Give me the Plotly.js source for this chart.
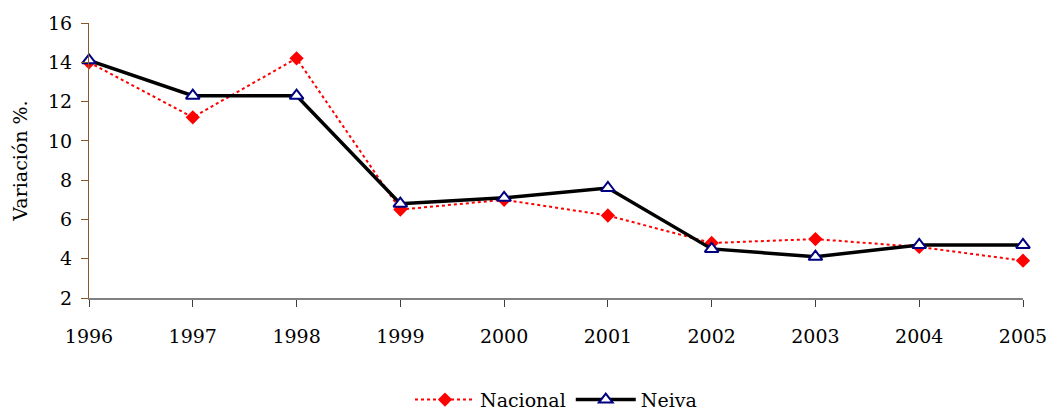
<!DOCTYPE html>
<html>
<head>
<meta charset="utf-8">
<script src="https://cdn.plot.ly/plotly-3.0.1.min.js"></script>
<style>html,body{margin:0;padding:0;background:#fff;}#chart{width:1050px;height:410px;}</style>
</head>
<body>
<div id="chart"></div>
<script>
const years = [1996, 1997, 1998, 1999, 2000, 2001, 2002, 2003, 2004, 2005];
const nacional = [14.0, 11.2, 14.2, 6.5, 7.0, 6.2, 4.8, 5.0, 4.6, 3.9];
const neiva = [14.1, 12.3, 12.3, 6.8, 7.1, 7.6, 4.5, 4.1, 4.7, 4.7];
const yTicks = [2, 4, 6, 8, 10, 12, 14, 16];

const font = 'DejaVu Serif, Liberation Serif, serif';

const traces = [
  {
    x: years, y: nacional, name: 'Nacional', type: 'scatter', mode: 'lines+markers',
    line: {color: '#ff0000', width: 2, dash: 'dot'},
    marker: {symbol: 'diamond', size: 11, color: '#ff0000'},
    cliponaxis: false
  },
  {
    x: years, y: neiva, name: 'Neiva', type: 'scatter', mode: 'lines+markers',
    line: {color: '#000000', width: 3.5},
    marker: {symbol: 'triangle-up', size: 12, color: '#ffffff', line: {color: '#000080', width: 2}},
    cliponaxis: false
  }
];

const layout = {
  width: 1050, height: 410,
  margin: {l: 89, r: 27, t: 23, b: 112, autoexpand: false},
  paper_bgcolor: '#ffffff', plot_bgcolor: '#ffffff',
  font: {family: font, size: 19, color: '#000000'},
  showlegend: true,
  legend: {orientation: 'h', x: 0.5, xanchor: 'center', yref: 'container', y: 0.025, yanchor: 'middle',
           font: {family: font, size: 19, color: '#000000'}, itemwidth: 60, tracegroupgap: 0},
  xaxis: {
    range: [1996, 2005], tickvals: years, ticktext: years.map(String), automargin: false,
    showgrid: false, zeroline: false, showline: true, linecolor: '#808080', linewidth: 1.5,
    ticks: 'outside', ticklen: 7, tickcolor: '#404040', tickwidth: 1,
    ticklabelstandoff: 14,
    tickfont: {family: font, size: 19, color: '#000000'}
  },
  yaxis: {
    range: [2, 16], tickvals: yTicks, ticktext: yTicks.map(String), automargin: false,
    showgrid: false, zeroline: false, showline: true, linecolor: '#8b5a2b', linewidth: 1,
    ticks: 'outside', ticklen: 7, tickcolor: '#8b5a2b', tickwidth: 1,
    ticklabelstandoff: 5,
    tickfont: {family: font, size: 19, color: '#000000'},
    title: {text: 'Variación %.', font: {family: font, size: 19, color: '#000000'}, standoff: 15}
  }
};

Plotly.newPlot('chart', traces, layout, {displayModeBar: false, staticPlot: true});
</script>
</body>
</html>
